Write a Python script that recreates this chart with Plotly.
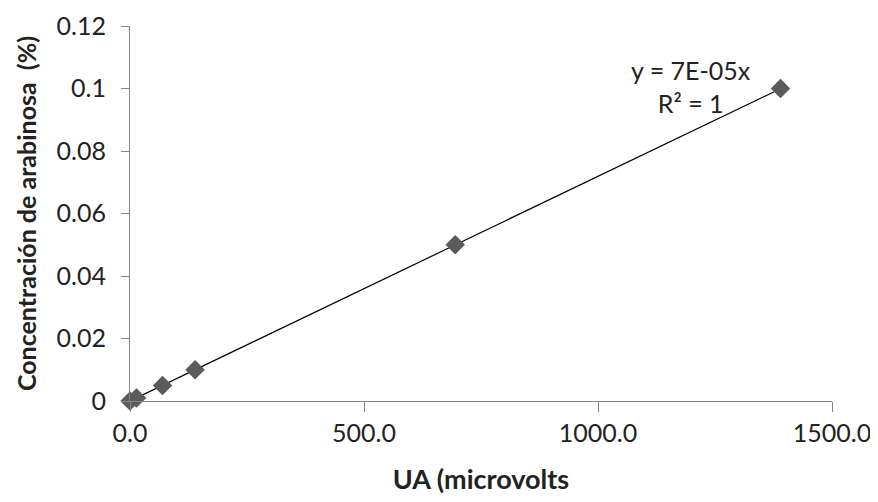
import plotly.graph_objects as go

ua = [0.0, 13.9, 69.5, 139.0, 695.0, 1390.0]
conc = [0.0, 0.001, 0.005, 0.01, 0.05, 0.1]
slope = 7.19e-05
trend_x = [0.0, 1390.0]
trend_y = [slope * v for v in trend_x]

FONT = "Lato, 'Open Sans', sans-serif"
AXIS_COLOR = "#868686"

fig = go.Figure()
fig.add_trace(go.Scatter(
    x=trend_x, y=trend_y, mode="lines",
    line=dict(color="black", width=1.2), showlegend=False, hoverinfo="skip"))
fig.add_trace(go.Scatter(
    x=ua, y=conc, mode="markers",
    marker=dict(symbol="diamond", size=15, color="#5b5b5b"),
    showlegend=False, cliponaxis=False))

fig.add_annotation(x=1198, y=0.1007, xref="x", yref="y",
                   text="y = 7E-05x<br>R² = 1", showarrow=False,
                   align="center", font=dict(family=FONT, size=25, color="#222"))

fig.update_layout(
    width=870, height=494,
    margin=dict(l=122, r=46, t=18, b=101, autoexpand=False),
    paper_bgcolor="white", plot_bgcolor="white",
    font=dict(family=FONT, size=25, color="#222"),
    xaxis=dict(
        range=[0, 1500], tickmode="linear", tick0=0, dtick=500,
        tickformat=".1f", showgrid=False, zeroline=False, automargin=False,
        showline=True, linecolor=AXIS_COLOR, linewidth=1,
        ticks="outside", ticklen=10, tickcolor=AXIS_COLOR,
        title=dict(text="<b>UA (microvolts</b>", font=dict(size=27), standoff=24),
    ),
    yaxis=dict(
        range=[0, 0.12], tickmode="linear", tick0=0, dtick=0.02,
        showgrid=False, zeroline=False, automargin=False,
        showline=True, linecolor=AXIS_COLOR, linewidth=1,
        ticks="outside", ticklen=8, tickcolor=AXIS_COLOR,
        ticklabelstandoff=10,
        title=dict(text="<b>Concentración de arabinosa  (%)</b>", font=dict(size=25), standoff=12),
    ),
)

fig.write_html("out.html")
